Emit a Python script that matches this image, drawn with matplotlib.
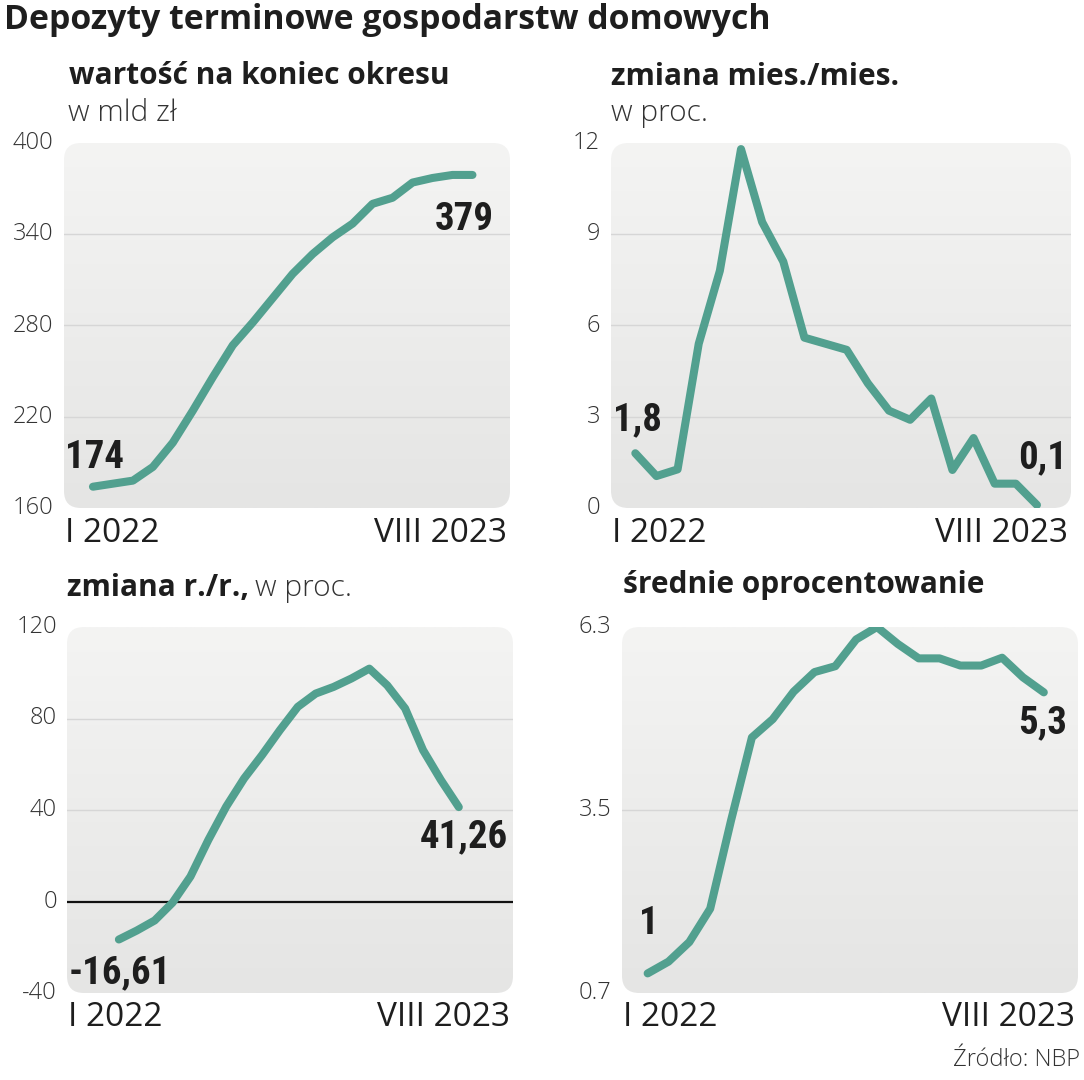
import matplotlib
matplotlib.use("Agg")
import matplotlib.pyplot as plt
import numpy as np
from matplotlib.patches import FancyBboxPatch

plt.rcParams['font.family'] = ['Open Sans', 'DejaVu Sans']

W, H = 1084, 1080

# dane: I 2022 - VIII 2023, 20 miesiecy
months = ["I 2022", "II", "III", "IV", "V", "VI", "VII", "VIII", "IX", "X", "XI", "XII",
          "I 2023", "II", "III", "IV", "V", "VI", "VII", "VIII 2023"]
wartosc = [174, 176, 178, 187, 203, 224, 246, 267, 282, 298, 314, 327, 338, 347,
           360, 364, 374, 377, 379, 379]
zmiana_mm = [1.8, 1.05, 1.27, 5.4, 7.8, 11.8, 9.4, 8.1, 5.6, 5.4, 5.2, 4.1, 3.2,
             2.9, 3.6, 1.25, 2.3, 0.8, 0.8, 0.1]
zmiana_rr = [-16.61, -12.7, -8.3, -0.5, 10.9, 26.9, 41.5, 53.8, 64.0, 74.9, 85.1,
             90.9, 93.8, 97.5, 101.8, 94.5, 84.4, 66.2, 53.1, 41.26]
oprocent = [1.0, 1.18, 1.48, 1.99, 3.34, 4.61, 4.89, 5.31, 5.61, 5.70, 6.11, 6.30,
            6.04, 5.82, 5.82, 5.71, 5.71, 5.83, 5.53, 5.3]

LINE = '#52a08f'
DARK = '#1e1e1e'
GREY = '#333333'

fig = plt.figure(figsize=(W / 100, H / 100), dpi=100)
fig.patch.set_facecolor('white')


def px(x, y):
    return x / W, 1 - y / H


def make_panel(box, xlim, ylim, ticks, ticklabels, tick_right, values, grid_ticks, zero=False):
    l, r, t, b = box
    ax = fig.add_axes([l / W, 1 - b / H, (r - l) / W, (b - t) / H])
    ax.set_xlim(*xlim)
    ax.set_ylim(*ylim)
    ax.axis('off')
    # zaokraglone tlo z gradientem
    patch = FancyBboxPatch((0, 0), 1, 1, boxstyle="round,pad=0,rounding_size=0.038",
                           transform=ax.transAxes, facecolor='none', edgecolor='none',
                           mutation_aspect=(r - l) / (b - t))
    ax.add_patch(patch)
    grad = np.linspace(0, 1, 256).reshape(-1, 1)
    im = ax.imshow(grad, cmap=matplotlib.colors.LinearSegmentedColormap.from_list(
        'bg', ['#f4f4f3', '#e5e5e4']), extent=[0, 1, 0, 1], transform=ax.transAxes,
        aspect='auto', zorder=0, origin='upper')
    im.set_clip_path(patch)
    for g in grid_ticks:
        ax.axhline(g, color='#d6d6d6', lw=1, zorder=1)
    if zero:
        ax.axhline(0, color='#111111', lw=1.6, zorder=2)
    ax.plot(range(len(values)), values, color=LINE, lw=5.8, solid_capstyle='round',
            solid_joinstyle='round', zorder=3)
    # etykiety osi y
    for tv, tl in zip(ticks, ticklabels):
        yy = ax.transData.transform((0, tv))[1]
        fig.text(tick_right / W, yy / H, tl, ha='right', va='center', fontsize=17,
                 fontweight='light', color=GREY)
    # etykiety osi x
    yb = b + 25
    fig.text(*px(l + 1, yb), months[0], ha='left', va='center', fontsize=24, color=DARK)
    fig.text(*px(r - 3, yb), months[-1], ha='right', va='center', fontsize=24, color=DARK)
    return ax


num_font = dict(family=['Roboto Condensed', 'Liberation Sans Narrow', 'Roboto'],
                fontweight='black', fontsize=28, color=DARK, va='center')
sub_bold = dict(fontweight='bold', fontsize=21.5, color=DARK, ha='left', va='center')
sub_light = dict(fontweight='light', fontsize=21.5, color=GREY, ha='left', va='center')

fig.text(*px(4, 20), "Depozyty terminowe gospodarstw domowych", ha='left', va='center',
         fontsize=24.3, fontweight='bold', color=DARK)

# panel 1
make_panel((64, 510, 143, 508), (-1.45, 20.88), (160, 400), [160, 220, 280, 340, 400],
           ['160', '220', '280', '340', '400'], 53, wartosc, [220, 280, 340])
fig.text(*px(69, 76), "wartość na koniec okresu", **sub_bold)
fig.text(*px(68, 113), "w mld zł", **sub_light)
fig.text(*px(65, 458), "174", ha='left', **num_font)
fig.text(*px(494, 220), "379", ha='right', **num_font)

# panel 2
make_panel((611, 1071, 143, 508), (-1.15, 20.61), (0, 12), [0, 3, 6, 9, 12],
           ['0', '3', '6', '9', '12'], 600, zmiana_mm, [3, 6, 9])
fig.text(*px(611, 77), "zmiana mies./mies.", **sub_bold)
fig.text(*px(611, 113), "w proc.", **sub_light)
fig.text(*px(613, 420), "1,8", ha='left', **num_font)
fig.text(*px(1067, 458), "0,1", ha='right', **num_font)

# panel 3
make_panel((67, 513, 627, 993), (-2.9, 22.03), (-40, 120), [-40, 0, 40, 80, 120],
           ['-40', '0', '40', '80', '120'], 57, zmiana_rr, [40, 80], zero=True)
t = fig.text(*px(67, 588), "zmiana r./r.,", **sub_bold)
fig.canvas.draw()
bb = t.get_window_extent()
fig.text((bb.x1 + 6) / W, 1 - 588 / H, "w proc.", **sub_light)
fig.text(*px(69, 973), "-16,61", ha='left', **num_font)
fig.text(*px(508, 837), "41,26", ha='right', **num_font)

# panel 4
make_panel((622, 1078, 627, 993), (-1.23, 20.64), (0.7, 6.3), [0.7, 3.5, 6.3],
           ['0.7', '3.5', '6.3'], 611, oprocent, [3.5])
fig.text(*px(623, 585), "średnie oprocentowanie", **sub_bold)
fig.text(*px(639, 923), "1", ha='left', **num_font)
fig.text(*px(1067, 723), "5,3", ha='right', **num_font)

fig.text(*px(1080, 1060), "Źródło: NBP", ha='right', va='center', fontsize=17,
         fontweight='light', color=GREY)

fig.savefig("out.png", dpi=100)
